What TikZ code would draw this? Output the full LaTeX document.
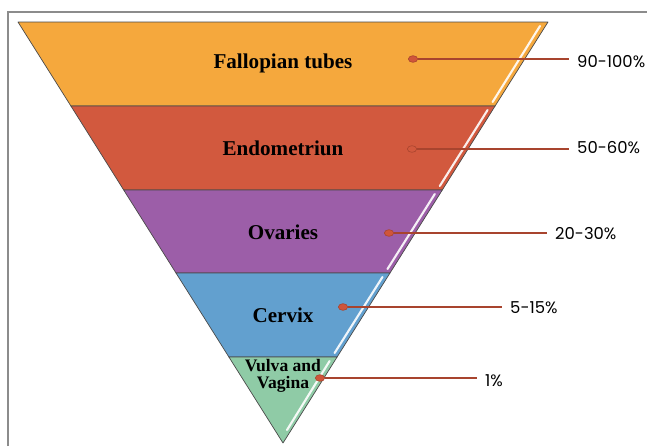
\documentclass[tikz,border=0pt]{standalone}
\usepackage{fontspec}
\setmainfont{Liberation Serif}
\newfontfamily\pctfont{Poppins}
\usetikzlibrary{positioning, calc, shapes.geometric}
\definecolor{tubeorange}{HTML}{F5A83D}
\definecolor{endored}{HTML}{D2593E}
\definecolor{ovarypurple}{HTML}{9C5EA8}
\definecolor{cervixblue}{HTML}{62A0CF}
\definecolor{vulvagreen}{HTML}{8FCBA6}
\definecolor{bandedge}{HTML}{4A4A4A}
\definecolor{leadred}{HTML}{A8442E}
\definecolor{dotred}{HTML}{D0553A}
\definecolor{framegray}{HTML}{8C8C8C}

\begin{document}
\begin{tikzpicture}[x=0.03cm, y=-0.03cm,
  band/.style={draw=bandedge, line width=0.6pt, line join=round},
  gloss/.style={white, line width=1.8pt, opacity=0.9, line cap=round},
  organ/.style={font=\fontsize{18}{19}\selectfont\bfseries, align=center},
  pct/.style={font=\pctfont\fontsize{14}{16}\selectfont, anchor=west, inner xsep=0.24cm, inner ysep=0pt},
  leader/.style={draw=leadred, line width=0.9pt},
  tip/.style={ellipse, minimum width=0.28cm, minimum height=0.2cm, inner sep=0pt, draw=leadred, line width=0.5pt, fill=dotred}]
  \useasboundingbox (0,0) rectangle (647,446);

  % Frame
  \draw[framegray, line width=1.2pt] (8,446) -- (8,12) -- (647,12);

  % Funnel bands
  \filldraw[band, fill=tubeorange] (18,22) -- (548,22) -- (495.1,106) -- (70.9,106) -- cycle;
  \filldraw[band, fill=endored] (70.9,106) -- (495.1,106) -- (442.3,190) -- (123.7,190) -- cycle;
  \filldraw[band, fill=ovarypurple] (123.7,190) -- (442.3,190) -- (390,273) -- (176,273) -- cycle;
  \filldraw[band, fill=cervixblue] (176,273) -- (390,273) -- (337.1,357) -- (228.9,357) -- cycle;
  \filldraw[band, fill=vulvagreen] (228.9,357) -- (337.1,357) -- (283,443) -- cycle;

  % Gloss on the right edge
  \draw[gloss] (540,26) -- (492.6,102);
  \draw[gloss] (487.6,110) -- (439.8,186);
  \draw[gloss] (434.8,194) -- (387.5,269);
  \draw[gloss] (382.5,277) -- (334.6,353);
  \draw[gloss] (329.6,361) -- (287,430);

  % Band labels
  \node[organ] (tubes) at (283,63) {Fallopian tubes};
  \node[organ] (endo) at (283,148) {Endometriun};
  \node[organ] (ovary) at (283,232) {Ovaries};
  \node[organ] (cervix) at (283,315) {Cervix};
  \node[organ, font=\fontsize{15}{15}\selectfont\bfseries, inner sep=1pt] (vulva) at (283,376) {Vulva and\\Vagina};

  % Markers
  \node[tip] (d1) at (413,59) {};
  \node[tip, fill=endored] (d2) at (412,149) {};
  \node[tip] (d3) at (389,233) {};
  \node[tip] (d4) at (343,307) {};
  \node[tip] (d5) at (320,378) {};

  % Percentages
  \node[pct] (p1) at (569,62) {90-100\%};
  \node[pct] (p2) at (569,148) {50-60\%};
  \node[pct] (p3) at (547,234) {20-30\%};
  \node[pct] (p4) at (502,308) {5-15\%};
  \node[pct] (p5) at (477,381) {1\%};

  % Leaders
  \draw[leader] (d1) -- (d1 -| p1.west);
  \draw[leader] (d2) -- (d2 -| p2.west);
  \draw[leader] (d3) -- (d3 -| p3.west);
  \draw[leader] (d4) -- (d4 -| p4.west);
  \draw[leader] (d5) -- (d5 -| p5.west);
\end{tikzpicture}
\end{document}
